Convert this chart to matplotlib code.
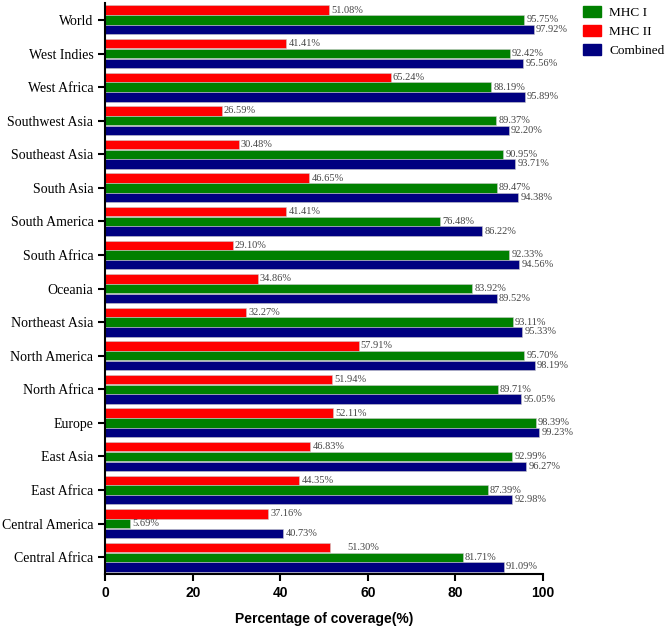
import numpy as np
import matplotlib
matplotlib.use('Agg')
import matplotlib.pyplot as plt
from matplotlib.patches import Patch

regions = ['Central Africa', 'Central America', 'East Africa', 'East Asia', 'Europe',
           'North Africa', 'North America', 'Northeast Asia', 'Oceania', 'South Africa',
           'South America', 'South Asia', 'Southeast Asia', 'Southwest Asia',
           'West Africa', 'West Indies', 'World']
mhc2 = [51.30, 37.16, 44.35, 46.83, 52.11, 51.94, 57.91, 32.27, 34.86, 29.10,
        41.41, 46.65, 30.48, 26.59, 65.24, 41.41, 51.08]
mhc1 = [81.71, 5.69, 87.39, 92.99, 98.39, 89.71, 95.70, 93.11, 83.92, 92.33,
        76.48, 89.47, 90.95, 89.37, 88.19, 92.42, 95.75]
combined = [91.09, 40.73, 92.98, 96.27, 99.23, 95.05, 98.19, 95.33, 89.52, 94.56,
            86.22, 94.38, 93.71, 92.20, 95.89, 95.56, 97.92]

fig = plt.figure(figsize=(6.66, 6.28), dpi=100)
ax = fig.add_axes([0.158, 0.086, 0.657, 0.909])

y = np.arange(len(regions))
h = 0.28
off = 0.29
series = [(mhc2, '#ff0000', off), (mhc1, '#008000', 0), (combined, '#000080', -off)]
for vals, col, dy in series:
    ax.barh(y + dy, vals, height=h, color=col, edgecolor='#c8c8c8', linewidth=0.4)
    for yi, v in zip(y, vals):
        shift = 0.5
        if col == '#ff0000' and yi == 0:
            shift = 4.0
        ax.text(v + shift, yi + dy, '%.2f%%' % v, va='center', ha='left',
                fontsize=7.5, color='#444444', family='Liberation Serif')

ax.set_xlim(0, 100)
ax.set_ylim(-0.5, 16.5)
ax.set_yticks(y)
ax.set_yticklabels(regions, family='Liberation Serif', fontsize=10)
ax.set_xticks([0, 20, 40, 60, 80, 100])
for lab in ax.get_xticklabels():
    lab.set_family('Liberation Sans')
    lab.set_fontweight('bold')
    lab.set_fontsize(10)
ax.set_xlabel('Percentage of coverage(%)', family='Liberation Sans', fontweight='bold',
              fontsize=10, labelpad=9)

for s in ['top', 'right']:
    ax.spines[s].set_visible(False)
for s in ['left', 'bottom']:
    ax.spines[s].set_linewidth(1.5)
ax.tick_params(width=1.5, length=5)

handles = [Patch(color='#008000', label='MHC I'),
           Patch(color='#ff0000', label='MHC II'),
           Patch(color='#000080', label='Combined')]
fig.legend(handles=handles, loc='upper left', bbox_to_anchor=(0.875, 0.99),
           frameon=False, prop={'family': 'Liberation Serif', 'size': 9.5},
           handlelength=1.4, handleheight=0.9, handletextpad=0.6,
           labelspacing=0.45, borderaxespad=0, borderpad=0)

fig.savefig('out.png', dpi=100)
